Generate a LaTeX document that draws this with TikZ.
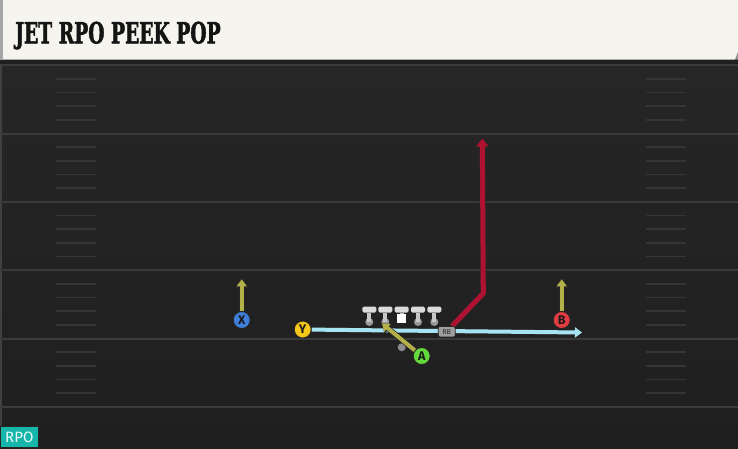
\documentclass[tikz,border=0pt]{standalone}
\usepackage{fontspec}
\usepackage{graphicx}
\setsansfont{Fira Sans}
\newfontfamily\titlefont{DejaVu Serif}[FakeBold=2.2]
\usetikzlibrary{arrows.meta, positioning}

\definecolor{fieldtop}{HTML}{262626}
\definecolor{fieldbot}{HTML}{1F1F1F}
\definecolor{banner}{HTML}{F6F4EE}
\definecolor{yardgray}{HTML}{3B3B3B}
\definecolor{routeolive}{HTML}{B3B049}
\definecolor{jetblue}{HTML}{A6E3F3}
\definecolor{postred}{HTML}{AE1230}
\definecolor{xblue}{HTML}{3D7FDB}
\definecolor{yyellow}{HTML}{F5C71A}
\definecolor{bred}{HTML}{E23B42}
\definecolor{agreen}{HTML}{63D93C}
\definecolor{rpoteal}{HTML}{17B6AB}

\pgfdeclarelayer{field}
\pgfdeclarelayer{routes}
\pgfsetlayers{field,routes,main}

\tikzset{
  yardline/.style={draw=yardgray, line width=2pt},
  hash/.style={draw=yardgray!90!black, line width=1.6pt},
  player/.style={circle, draw=black!85, line width=.9pt, minimum size=17pt, inner sep=0pt,
    font=\sffamily\bfseries\fontsize{12.5}{12.5}\selectfont, text=black!90},
  bar/.style={rectangle, rounded corners=1.5pt, fill=black!14, minimum width=14pt,
    minimum height=6pt, inner sep=0pt},
  stem/.style={draw=black!22, line width=4.3pt},
  ldot/.style={circle, fill=black!40, minimum size=8pt, inner sep=0pt},
  snapbox/.style={rectangle, fill=white, minimum size=8.5pt, inner sep=0pt},
  rb/.style={rectangle, rounded corners=2pt, fill=black!38, draw=black!85, line width=.6pt,
    minimum width=17pt, minimum height=10.5pt, inner sep=0pt,
    font=\sffamily\fontsize{7}{7}\selectfont, text=black!85},
  route/.style={draw=#1, line width=4pt, line join=round, -{Triangle[width=10pt,length=7pt]},
    preaction={draw=black!85, line width=5.4pt, -{Triangle[width=12pt,length=8.5pt]}}},
  post/.style={draw=#1, line width=5pt, line join=round, -{Triangle[width=12pt,length=8pt]},
    preaction={draw=black!85, line width=6.4pt, -{Triangle[width=14pt,length=9.5pt]}}}
}

\begin{document}
\begin{tikzpicture}[x=1pt, y=-1pt]
\useasboundingbox (0,0) rectangle (738,448);

\begin{pgfonlayer}{field}
% field and yard lines
\shade[top color=fieldtop, bottom color=fieldbot] (0,59) rectangle (738,448);
\fill[black!88] (0,59) rectangle (738,63.5);
\fill[black!75] (0,63.5) rectangle (2,448);
\foreach \i in {0,...,5}
  \draw[yardline] (0,{65.3+68.3*\i}) -- (738,{65.3+68.3*\i});
\foreach \i in {0,...,4}
  \foreach \j in {1,...,4} {
    \draw[hash] (56,{65.3+68.3*\i+13.66*\j}) -- (96,{65.3+68.3*\i+13.66*\j});
    \draw[hash] (646,{65.3+68.3*\i+13.66*\j}) -- (686,{65.3+68.3*\i+13.66*\j});
  }
% banner
\fill[banner] (3,0) -- (738,0) -- (738,52) -- (735,59.5) -- (3,59.5) -- cycle;
\fill[black!35] (0,0) rectangle (3,59.5);
\fill[black!45] (735,59.5) -- (738,52) -- (738,59.5) -- cycle;
\end{pgfonlayer}

\node[anchor=base west, inner sep=0pt, text=black!92, font=\titlefont\bfseries] (title)
  at (15,43.3) {\resizebox{205.5pt}{21.6pt}{JET RPO PEEK POP}};

\node[anchor=south west, fill=rpoteal, draw=black!85, line width=.6pt, minimum width=38pt,
  minimum height=21pt, inner sep=0pt, text=white!92!rpoteal,
  font=\sffamily\fontsize{15}{15}\selectfont] (rpo) at (0,448) {RPO};

% line
\foreach \nm/\xx in {LT/369.3, LG/385.3, RG/418, RT/434.3} {
  \node[ldot] (\nm-dot) at (\xx,322) {};
  \node[bar] (\nm) at (\xx,309.5) {};
  \draw[stem] (\nm.south) -- (\nm-dot.center);
}
\node[snapbox] (C-box) at (401.7,318.5) {};
\node[bar] (C) at (401.7,309.5) {};
\draw[stem] (C.south) -- (C-box.north);

% players
\node[player, fill=xblue] (X) at (241.7,320) {X};
\node[player, fill=yyellow] (Y) at (302.7,329.5) {Y};
\node[player, fill=bred] (B) at (561.7,320) {B};
\node[player, fill=agreen] (A) at (421.7,356) {A};
\node[ldot, fill=black!45] (QB) at (401.7,347.3) {};
\node[rb] (RB) at (446.7,331.7) {RB};

\coordinate (X-end) at (241.7,279.3);
\coordinate (B-end) at (561.7,279.3);
\coordinate (A-end) at (382,323.5);
\coordinate (jet-end) at (582,332.5);
\coordinate (post-cut) at (483.3,293.3);
\coordinate (post-end) at (482.3,138.5);

\begin{pgfonlayer}{routes}
\draw[route=routeolive] (X) -- (X-end);
\draw[route=routeolive] (B) -- (B-end);
\draw[route=jetblue] (Y) -- (jet-end);
\draw[post=postred] (RB) -- (post-cut) -- (post-end);
\end{pgfonlayer}
\draw[route=routeolive] (A) -- (A-end);

\end{tikzpicture}
\end{document}
